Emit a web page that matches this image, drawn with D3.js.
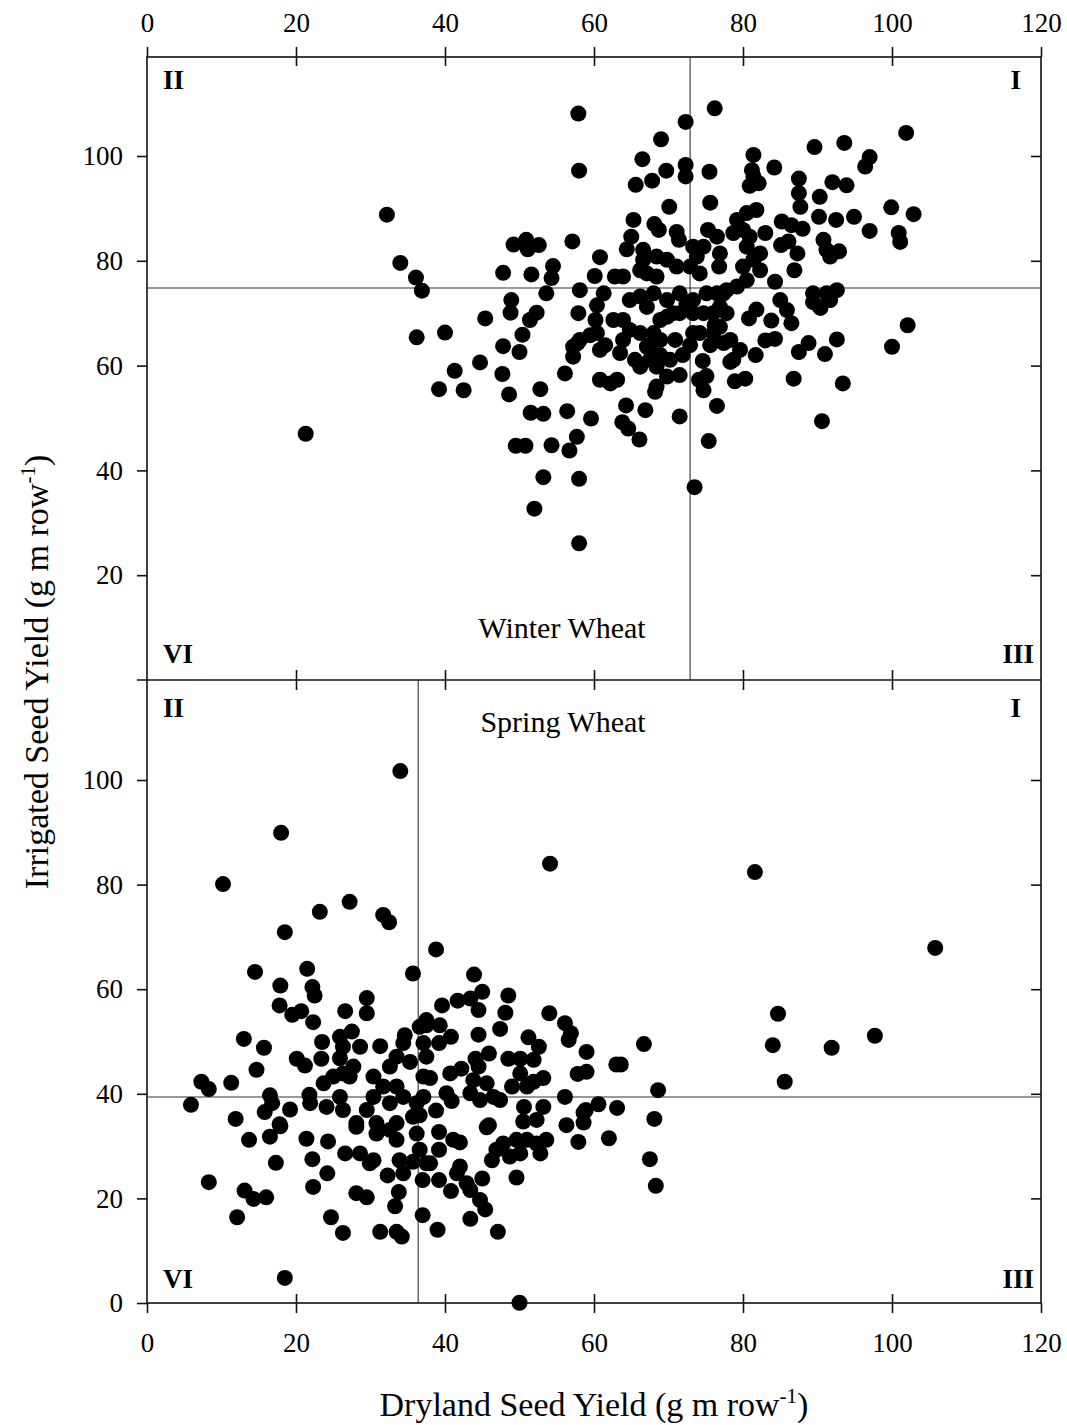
<!DOCTYPE html>
<html>
<head>
<meta charset="utf-8">
<script src="https://cdn.jsdelivr.net/npm/d3@7"></script>
<style>
  body { margin: 0; background: #fff; }
  svg { display: block; }
  text { font-family: "Liberation Serif", "Times New Roman", serif; fill: #000; }
</style>
</head>
<body>
<svg width="1067" height="1425"></svg>
<script>
// winter wheat, dryland (x) vs irrigated (y), g m row-1
var winterDry = [57.9,58.0,32.2,34.0,36.1,36.9,49.2,50.9,51.1,52.6,57.1,47.8,51.6,54.5,54.3,60.8,60.1,53.6,58.1,48.9,48.8,52.3,51.4,45.4,57.9,60.4,60.2,40.0,36.2,
  21.3,50.4,47.8,50.0,44.7,41.3,47.7,39.2,42.5,48.6,52.8,56.1,57.2,57.8,51.5,53.2,56.4,49.5,50.8,54.3,56.7,57.7,53.2,58.0,52.0,58.0,
  59.6,64.3,66.9,63.8,64.6,66.1,71.5,75.4,73.5,76.5,74.7,74.1,75.1,74.6,68.2,86.8,93.4,90.6,78.9,80.3,81.7,87.5,88.8,91.0,92.6,83.0,84.3,78.3,79.6,80.8,81.8,83.8,86.5,90.4,91.7,89.4,
  57.2,58.1,60.4,60.8,60.8,62.2,63.1,62.6,63.9,63.9,63.5,66.2,68.0,67.1,66.2,67.5,68.9,68.4,69.8,68.4,70.2,70.6,72.4,73.3,74.2,73.3,74.7,76.0,76.9,77.8,77.4,78.3,78.7,76.9,
  76.2,72.3,69.0,66.5,72.3,72.3,69.7,67.8,65.6,75.5,75.6,70.1,65.3,68.1,68.7,71.1,71.4,65.0,64.4,62.8,63.9,66.6,66.6,66.2,67.1,68.4,68.4,69.8,71.1,73.3,74.7,73.8,72.9,74.2,75.3,76.5,76.9,76.8,
  81.4,81.2,81.4,80.9,82.1,84.2,89.6,93.6,97.0,96.4,87.5,87.5,87.7,92.0,93.9,90.3,90.2,92.5,94.9,97.0,85.2,86.5,88.0,85.1,86.1,87.3,86.9,90.8,91.2,91.7,92.9,
  79.2,80.5,81.8,78.7,80.0,80.9,80.5,83.0,82.3,80.0,81.4,82.3,80.5,79.2,77.8,76.5,84.3,85.0,85.9,89.4,91.2,92.6,90.3,
  61.3,64.8,66.2,67.1,68.0,69.8,69.8,71.5,71.5,73.3,75.1,76.0,77.4,
  101.9,99.9,102.9,100.9,101.1,102.1,100.0,
  59.5,61.5,64.8,68.9,70.9,71.9,72.9,75.6,67.5,65.5,68.9,71.5,76.2];
var winterIrr = [108.1,97.2,88.8,79.6,76.8,74.3,83.1,84.0,82.2,83.0,83.7,77.7,77.4,79.0,76.7,80.7,77.1,73.8,74.4,72.5,70.1,70.1,68.7,69.0,70.0,71.5,68.7,66.3,65.4,
  47.0,65.9,63.7,62.6,60.6,59.0,58.4,55.5,55.3,54.5,55.5,58.5,61.7,64.3,51.0,50.8,51.3,44.7,44.7,44.8,43.8,46.4,38.7,38.4,32.7,26.1,
  49.9,52.4,51.5,49.2,48.0,45.9,50.3,45.6,36.8,52.3,55.3,57.3,58.0,60.9,55.0,57.5,56.6,49.4,57.0,57.5,62.0,62.6,64.3,62.2,65.0,64.8,65.1,60.7,63.0,69.0,70.7,68.6,68.1,71.0,72.5,72.1,
  63.6,64.9,66.2,63.0,57.3,56.6,57.3,68.7,68.7,64.9,62.4,66.2,66.2,63.6,59.8,61.1,64.9,59.8,57.9,56.0,61.1,70.0,71.9,66.2,66.2,70.0,70.0,66.2,67.4,70.0,64.3,64.9,61.1,71.2,
  109.1,106.5,103.2,99.4,98.3,96.1,97.2,95.3,94.5,97.0,91.1,90.3,87.8,87.0,85.9,85.5,84.0,84.6,82.2,77.0,77.0,82.1,80.2,78.2,77.6,77.0,80.8,80.2,78.9,82.7,82.7,80.8,78.9,77.6,85.9,84.6,81.4,78.9,
  100.2,97.3,96.1,94.3,94.8,97.8,101.7,102.5,99.8,98.0,95.7,92.9,90.3,95.0,94.4,92.2,88.4,87.8,88.4,85.7,87.5,86.8,86.1,83.0,83.7,81.4,78.2,84.0,82.1,80.8,81.8,
  87.8,89.1,89.7,85.3,85.9,84.6,82.7,85.3,81.4,78.9,80.2,78.2,76.3,75.1,74.4,73.8,76.0,72.5,70.6,73.8,73.8,74.4,71.2,
  73.8,72.5,73.2,71.2,73.8,72.5,69.3,73.8,70.0,72.5,73.8,70.0,73.8,
  104.4,90.2,88.9,85.3,83.6,67.7,63.6,
  65.8,63.9,66.8,68.7,64.9,62.0,63.9,63.9,63.9,61.1,62.0,58.2,67.7];

// spring wheat
var springDry = [34.0,18.0,10.2,54.1,81.6,105.8,84.7,84.0,85.6,91.9,97.7,23.2,27.2,31.7,32.5,18.5,
  14.5,21.5,17.9,22.2,22.5,17.8,19.5,20.7,22.3,26.6,29.5,29.5,35.7,13.0,15.7,14.7,20.1,21.2,23.4,23.5,25.9,27.5,26.3,28.6,25.9,31.3,27.7,26.3,25.0,23.7,27.2,30.4,34.6,34.4,33.5,35.3,32.6,36.6,37.5,37.1,37.5,
  7.3,8.3,11.3,5.9,11.9,16.5,16.8,15.8,19.2,17.8,21.8,21.9,24.1,25.9,26.3,28.1,29.5,30.4,31.7,32.6,33.5,34.4,30.8,33.5,35.7,36.2,37.1,37.1,
  38.8,43.9,45.0,41.7,43.4,44.5,39.6,48.5,48.1,47.4,44.5,54.0,56.1,56.9,56.6,59.0,66.7,63.0,63.6,57.8,59.0,68.6,68.1,63.1,60.6,58.9,56.1,56.3,58.6,51.2,52.6,51.9,48.5,50.1,50.1,53.2,49.0,51.0,51.9,45.9,44.1,44.5,40.8,39.2,37.5,39.3,38.0,40.7,42.2,40.2,40.9,43.4,45.6,46.5,44.7,47.4,43.8,38.8,36.6,50.6,53.2,52.3,50.5,58.6,45.9,
  17.9,16.5,13.7,21.4,24.3,17.3,22.2,24.2,22.3,8.3,13.1,14.3,16.0,12.1,26.6,28.6,29.9,30.4,28.1,29.5,24.7,26.3,31.3,33.5,34.2,18.5,32.3,33.9,35.7,34.4,33.8,33.3,37.0,37.0,28.1,30.8,32.6,33.5,36.2,36.6,37.5,
  39.2,41.1,42.0,39.2,45.6,38.0,39.2,42.0,41.6,40.8,42.9,43.4,45.0,44.7,45.4,43.4,47.1,39.0,46.3,46.9,47.8,48.7,49.6,50.1,51.0,52.3,52.8,53.6,49.6,57.9,62.0,67.5,68.3,50.0];
var springIrr = [101.7,89.9,80.1,84.0,82.4,67.9,55.3,49.3,42.3,48.8,51.1,74.8,76.7,74.2,72.8,70.9,
  63.3,63.9,60.7,60.4,58.8,56.9,55.1,55.8,53.7,55.8,58.3,55.4,63.0,50.5,48.8,44.6,46.7,45.4,46.7,49.9,50.9,51.9,49.0,49.0,46.8,49.1,45.2,43.9,43.3,42.0,43.3,43.3,51.2,49.7,47.1,46.1,45.2,52.8,54.1,49.7,47.1,
  42.3,40.9,42.1,37.9,35.2,39.7,38.2,36.5,37.0,34.2,39.8,38.2,37.5,39.4,36.9,34.4,36.9,39.4,41.4,38.2,41.4,39.4,34.4,34.4,35.6,38.2,43.3,39.4,
  67.6,62.8,59.5,57.8,58.2,56.0,56.9,58.8,55.5,52.4,51.3,55.4,53.5,51.6,50.3,48.0,49.5,45.6,45.6,43.8,44.2,40.7,35.2,37.3,38.0,36.9,39.4,34.0,34.5,50.8,49.0,46.5,46.7,46.7,43.9,43.0,41.4,41.4,42.3,47.7,46.7,45.2,50.9,49.7,53.1,53.1,43.0,43.9,44.8,40.1,38.6,40.1,42.0,39.4,38.8,38.8,42.6,36.8,35.9,37.5,37.5,35.0,34.7,36.4,34.0,
  33.8,31.8,31.2,31.4,30.9,26.8,27.5,24.8,22.2,23.1,21.5,19.9,20.2,16.4,28.6,28.6,26.7,27.3,21.0,20.2,16.4,13.4,13.6,13.6,12.7,4.8,24.4,27.3,27.0,24.8,21.2,18.5,16.8,23.5,33.7,32.4,33.1,31.2,32.4,29.3,26.7,
  32.7,31.2,30.7,29.3,33.6,26.7,23.5,26.1,24.8,21.4,22.9,21.6,23.8,19.7,17.9,16.1,13.6,14.0,27.3,29.3,30.5,28.0,31.2,28.6,31.2,30.5,28.6,31.2,24.0,30.8,31.5,27.5,22.4,0.05];

// mean lines (dryland, irrigated)
var winterMean = [72.9, 74.8];
var springMean = [36.4, 39.4];

var xTicks = [0, 20, 40, 60, 80, 100, 120];
var yTicksTop = [20, 40, 60, 80, 100];
var yTicksBot = [0, 20, 40, 60, 80, 100];

var svg = d3.select("svg");
var left = 147, right = 1041, yFrameTop = 57, yMid = 680, yFrameBot = 1303;

var x = d3.scaleLinear().domain([0, 120]).range([left, right]);
var yTop = d3.scaleLinear().domain([0, 100]).range([yMid, 156]);
var yBot = d3.scaleLinear().domain([0, 100]).range([yFrameBot, 780]);

function styleAxis(g, fs) {
  g.select(".domain").remove();
  g.selectAll(".tick line").attr("stroke", "#111").attr("stroke-width", 1.6);
  g.selectAll(".tick text").style("font-family", '"Liberation Serif", serif').style("font-size", fs + "px").attr("fill", "#000");
}

// x axes: top (labels above), middle (no labels), bottom (labels below); ticks cross the line
svg.append("g").attr("transform", "translate(0," + yFrameTop + ")")
  .call(d3.axisTop(x).tickValues(xTicks).tickSize(10).tickPadding(15).tickFormat(d3.format("d")))
  .call(styleAxis, 27);
svg.append("g").attr("transform", "translate(0," + yFrameTop + ")")
  .call(d3.axisBottom(x).tickValues(xTicks.slice(1, -1)).tickSize(9).tickFormat(""))
  .call(styleAxis, 27);
[-10, 10].forEach(function(s) {
  svg.append("g").attr("transform", "translate(0," + yMid + ")")
    .call((s < 0 ? d3.axisTop(x) : d3.axisBottom(x)).tickValues(xTicks.slice(1, -1)).tickSize(10).tickFormat(""))
    .call(styleAxis, 27);
});
svg.append("g").attr("transform", "translate(0," + yFrameBot + ")")
  .call(d3.axisBottom(x).tickValues(xTicks).tickSize(10).tickPadding(20).tickFormat(d3.format("d")))
  .call(styleAxis, 27);
svg.append("g").attr("transform", "translate(0," + yFrameBot + ")")
  .call(d3.axisTop(x).tickValues(xTicks.slice(1, -1)).tickSize(9).tickFormat(""))
  .call(styleAxis, 27);

// y axes, left outside with labels, right inside
svg.append("g").attr("transform", "translate(" + left + ",0)")
  .call(d3.axisLeft(yTop).tickValues(yTicksTop).tickSize(10).tickPadding(14))
  .call(styleAxis, 27);
svg.append("g").attr("transform", "translate(" + left + ",0)")
  .call(d3.axisLeft(yBot).tickValues(yTicksBot).tickSize(10).tickPadding(14))
  .call(styleAxis, 27);
svg.append("g").attr("transform", "translate(" + right + ",0)")
  .call(d3.axisLeft(yTop).tickValues(yTicksTop).tickSize(10).tickFormat(""))
  .call(styleAxis, 27);
svg.append("g").attr("transform", "translate(" + right + ",0)")
  .call(d3.axisLeft(yBot).tickValues(yTicksBot.slice(1)).tickSize(10).tickFormat(""))
  .call(styleAxis, 27);

// frames
svg.append("rect").attr("x", left).attr("y", yFrameTop).attr("width", right - left).attr("height", yFrameBot - yFrameTop)
  .attr("fill", "none").attr("stroke", "#111").attr("stroke-width", 1.6);
svg.append("line").attr("x1", left - 10).attr("x2", right).attr("y1", yMid).attr("y2", yMid)
  .attr("stroke", "#111").attr("stroke-width", 1.6);

// mean reference lines
function meanLines(m, y, y0, y1) {
  svg.append("line").attr("x1", x(m[0])).attr("x2", x(m[0])).attr("y1", y0).attr("y2", y1)
    .attr("stroke", "#333").attr("stroke-width", 1.1);
  svg.append("line").attr("x1", left).attr("x2", right).attr("y1", y(m[1])).attr("y2", y(m[1]))
    .attr("stroke", "#333").attr("stroke-width", 1.1);
}
meanLines(winterMean, yTop, yFrameTop, yMid);
meanLines(springMean, yBot, yMid, yFrameBot);

// points
function dots(dx, dy, y) {
  svg.append("g").selectAll("circle")
    .data(dx.map(function(v, i) { return [v, dy[i]]; }))
    .enter().append("circle")
    .attr("cx", function(d) { return x(d[0]); })
    .attr("cy", function(d) { return y(d[1]); })
    .attr("r", 8)
    .attr("fill", "#000");
}
dots(winterDry, winterIrr, yTop);
dots(springDry, springIrr, yBot);

// quadrant labels
var quad = [
  ["II", 163, 89, "start"], ["I", 1021, 89, "end"], ["VI", 163, 663, "start"], ["III", 1034, 663, "end"],
  ["II", 163, 717, "start"], ["I", 1021, 717, "end"], ["VI", 163, 1288, "start"], ["III", 1034, 1288, "end"]
];
svg.append("g").selectAll("text").data(quad).enter().append("text")
  .attr("x", function(d) { return d[1]; }).attr("y", function(d) { return d[2]; })
  .attr("text-anchor", function(d) { return d[3]; })
  .style("font-size", "27px").style("font-weight", "bold")
  .text(function(d) { return d[0]; });

svg.append("text").attr("x", 562).attr("y", 638).attr("text-anchor", "middle")
  .style("font-size", "30px").text("Winter Wheat");
svg.append("text").attr("x", 563).attr("y", 732).attr("text-anchor", "middle")
  .style("font-size", "30px").text("Spring Wheat");

// axis titles
var xt = svg.append("text").attr("x", 594).attr("y", 1416).attr("text-anchor", "middle").style("font-size", "34px");
xt.append("tspan").text("Dryland Seed Yield (g m row");
xt.append("tspan").attr("dy", -13).style("font-size", "21px").text("-1");
xt.append("tspan").attr("dy", 13).text(")");

var yt = svg.append("text").attr("transform", "translate(48,672) rotate(-90)").attr("text-anchor", "middle").style("font-size", "34px");
yt.append("tspan").text("Irrigated Seed Yield (g m row");
yt.append("tspan").attr("dy", -13).style("font-size", "21px").text("-1");
yt.append("tspan").attr("dy", 13).text(")");
</script>
</body>
</html>
